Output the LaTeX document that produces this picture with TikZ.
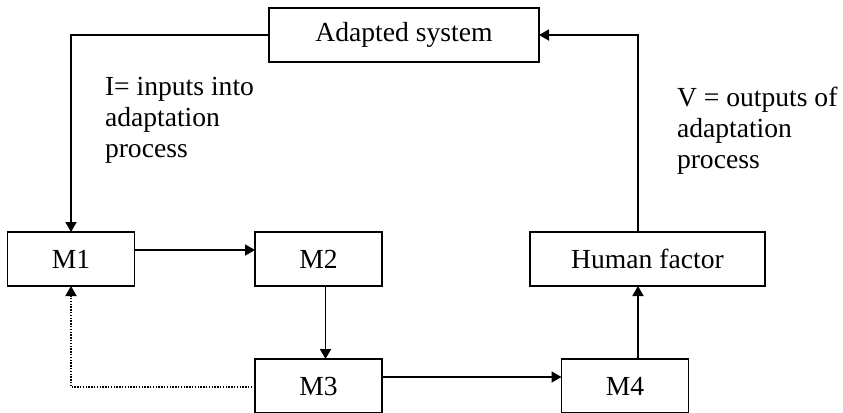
\documentclass[tikz,border=0pt]{standalone}
\usepackage{fontspec}
\setmainfont{Liberation Serif}
\usetikzlibrary{positioning,arrows.meta}

\begin{document}
\begin{tikzpicture}[x=0.5pt,y=-0.5pt,font=\fontsize{13.8}{15.5}\selectfont,
    base/.style={draw,line width=0.9pt,minimum width=63.5pt,minimum height=27pt,inner sep=0pt,outer sep=0pt},
    nota/.style={align=left,inner sep=0pt,outer sep=0pt},
    freccia/.style={-{Triangle[length=5pt,width=5.5pt]},line width=0.9pt}]
        \useasboundingbox (0,0) rectangle (843,413);
        %
        \node[base,minimum width=135pt](sys) at (404,35){Adapted system};
        \node[base](m1) at (71,259){M1};
        \node[base](m2) at (318.5,259){M2};
        \node[base](m3) at (318.5,386){M3};
        \node[base](m4) at (625,386){M4};
        \node[base,minimum width=117.5pt](hf) at (647.5,259){Human factor};
        %
        \coordinate[xshift=6.5pt](su) at (m4.north);
        %
        \draw[freccia] (sys.west) -| (m1.north);
        \draw[freccia] ([yshift=4.5pt]m1.east) -- ([yshift=4.5pt]m2.west);
        \draw[freccia] ([xshift=3.5pt]m2.south) -- ([xshift=3.5pt]m3.north);
        \draw[freccia] ([yshift=4.5pt]m3.east) -- ([yshift=4.5pt]m4.west);
        \draw[freccia] (su) -- (su |- hf.south);
        \draw[freccia] (su |- hf.north) |- (sys.east);
        \draw[freccia,dash pattern=on 0.7pt off 0.7pt] ([yshift=-0.5pt]m3.west) -| (m1.south);
        %
        \node[nota,anchor=north west](ingr) at (105,77){I= inputs into\\adaptation\\process};
        \node[nota,anchor=north west](usc) at (677,87){V = outputs of\\adaptation\\process};
\end{tikzpicture}
\end{document}
